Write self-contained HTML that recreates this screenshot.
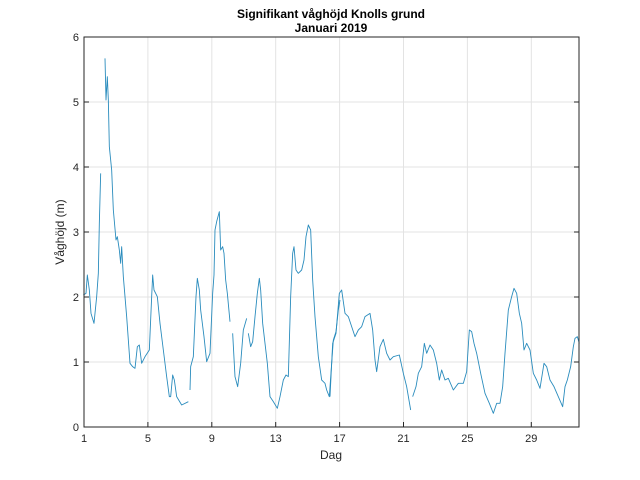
<!DOCTYPE html>
<html><head><meta charset="utf-8"><style>
body{margin:0;background:#fff;}
svg{display:block;font-family:"Liberation Sans",Arial,sans-serif;}
</style></head><body>
<svg width="640" height="480" viewBox="0 0 640 480" xmlns="http://www.w3.org/2000/svg">
<rect width="640" height="480" fill="#fff"/>
<g stroke="#e3e3e3" stroke-width="1">
<line x1="147.9" y1="37" x2="147.9" y2="427"/><line x1="211.8" y1="37" x2="211.8" y2="427"/>
<line x1="275.7" y1="37" x2="275.7" y2="427"/><line x1="339.6" y1="37" x2="339.6" y2="427"/>
<line x1="403.5" y1="37" x2="403.5" y2="427"/><line x1="467.4" y1="37" x2="467.4" y2="427"/>
<line x1="531.3" y1="37" x2="531.3" y2="427"/>
<line x1="84" y1="102" x2="579" y2="102"/><line x1="84" y1="167" x2="579" y2="167"/>
<line x1="84" y1="232" x2="579" y2="232"/><line x1="84" y1="297" x2="579" y2="297"/>
<line x1="84" y1="362" x2="579" y2="362"/>
</g>
<g fill="none" stroke="#2a8cbd" stroke-width="0.9" stroke-linejoin="round">
<g transform="translate(80,30) scale(0.33333)">
<polyline vector-effect="non-scaling-stroke" points="10,795 18,790 22,735 28,780 33,850 42,880 50,800 55,730 58,580 62,430"/>
<polyline vector-effect="non-scaling-stroke" points="75,85 78,210 82,140 85,210 88,350 95,420 100,540 108,630 112,620 118,660 122,700 125,650 130,740 140,860 150,1000 158,1010 165,1015 172,950 178,945 185,1000 195,980 208,960 215,800 218,735 222,780 232,800 240,880 250,960 260,1040 268,1100 272,1100 278,1035 283,1050 290,1100 305,1125 325,1115"/>
<polyline vector-effect="non-scaling-stroke" points="330,1080 332,1010 340,980 348,800 352,745 358,780 362,840 372,920 380,995 390,970 398,790 402,735 405,600 410,575 418,545 422,660 428,650 432,670 437,750 442,790 450,875"/>
<polyline vector-effect="non-scaling-stroke" points="458,910 465,1040 473,1070 482,1000 490,900 500,865"/>
<polyline vector-effect="non-scaling-stroke" points="505,910 512,950 518,935 525,860 532,790 538,745 542,780 548,880 555,940 562,1000 570,1100 580,1115 592,1135 600,1100 610,1050 618,1035 625,1040 632,800 638,670 642,650 648,720 655,730 665,720 672,690 678,620 685,585 692,600 698,750 705,860 715,980 725,1050 735,1060 740,1080 748,1100 755,1000 760,930 768,905 775,840 780,810"/>
</g>
<g transform="translate(330,180) scale(0.33333)">
<polyline vector-effect="non-scaling-stroke" points="0,650 8,490 18,460 28,340 35,330 40,365 45,400 55,410 65,440 75,470 85,450 95,440 105,410 120,400 128,450 135,540 140,575 150,500 160,478 170,520 180,540 190,530 208,525 220,580 230,620 242,690"/>
<polyline vector-effect="non-scaling-stroke" points="248,650 258,620 265,580 275,560 283,490 290,520 300,495 310,510 320,550 328,600 335,570 345,600 355,595 370,630 385,610 400,610 410,575 418,450 425,455 432,490 440,520 452,580 465,640 478,670 490,700 500,670 510,670 518,620 525,520 535,390 545,350 552,325 560,340 568,400 575,430 582,510 590,490 600,510 610,580 620,600 630,625 642,550 650,560 660,600 672,620 685,650 698,680 705,620 712,600 722,560 730,500 735,475 742,470 748,490"/>
</g>
</g>
<rect x="84" y="37" width="495" height="390" fill="none" stroke="#262626" stroke-width="1"/>
<g stroke="#262626" stroke-width="1">
<line x1="147.9" y1="427" x2="147.9" y2="422"/><line x1="211.8" y1="427" x2="211.8" y2="422"/>
<line x1="275.7" y1="427" x2="275.7" y2="422"/><line x1="339.6" y1="427" x2="339.6" y2="422"/>
<line x1="403.5" y1="427" x2="403.5" y2="422"/><line x1="467.4" y1="427" x2="467.4" y2="422"/>
<line x1="531.3" y1="427" x2="531.3" y2="422"/>
<line x1="84" y1="102" x2="89" y2="102"/><line x1="84" y1="167" x2="89" y2="167"/>
<line x1="84" y1="232" x2="89" y2="232"/><line x1="84" y1="297" x2="89" y2="297"/>
<line x1="84" y1="362" x2="89" y2="362"/>
<line x1="579" y1="102" x2="574" y2="102"/><line x1="579" y1="167" x2="574" y2="167"/>
<line x1="579" y1="232" x2="574" y2="232"/><line x1="579" y1="297" x2="574" y2="297"/>
<line x1="579" y1="362" x2="574" y2="362"/>
</g>
<g font-size="11" fill="#262626" text-anchor="middle">
<text x="84" y="442">1</text><text x="147.9" y="442">5</text><text x="211.8" y="442">9</text>
<text x="275.7" y="442">13</text><text x="339.6" y="442">17</text><text x="403.5" y="442">21</text>
<text x="467.4" y="442">25</text><text x="531.3" y="442">29</text>
</g>
<g font-size="11" fill="#262626" text-anchor="end">
<text x="79" y="431">0</text><text x="79" y="366">1</text><text x="79" y="301">2</text>
<text x="79" y="236">3</text><text x="79" y="171">4</text><text x="79" y="106">5</text><text x="79" y="41">6</text>
</g>
<text x="331" y="459" font-size="12" fill="#262626" text-anchor="middle">Dag</text>
<text transform="translate(64,232) rotate(-90)" font-size="12" fill="#262626" text-anchor="middle">Våghöjd (m)</text>
<text x="331" y="18" font-size="12" font-weight="bold" fill="#000" text-anchor="middle">Signifikant våghöjd Knolls grund</text>
<text x="331" y="32" font-size="12" font-weight="bold" fill="#000" text-anchor="middle">Januari 2019</text>
</svg>
</body></html>
